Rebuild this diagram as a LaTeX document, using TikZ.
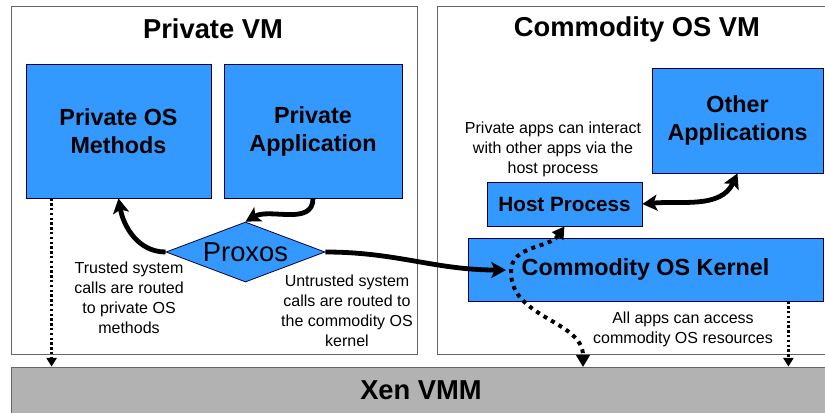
\documentclass[tikz,border=0pt]{standalone}
\usepackage{fontspec}
\setmainfont{Liberation Sans}
\usetikzlibrary{arrows.meta,shapes.geometric}
\definecolor{vmblue}{RGB}{51,153,255}
\definecolor{vmmgray}{RGB}{178,178,178}
\begin{document}
\begin{tikzpicture}[x=0.75pt,y=-0.75pt,
  panel/.style={draw=black!60,fill=white,line width=0.6pt},
  vmtitle/.style={font=\fontsize{20.5}{24}\selectfont\bfseries},
  bluebox/.style={draw=black!75!blue,fill=vmblue,line width=0.6pt,inner sep=0pt,
    align=center,font=\fontsize{17.5}{21}\selectfont\bfseries},
  proxosbox/.style={diamond,draw=black!75!blue,fill=vmblue,line width=0.6pt,inner sep=0pt,
    shape aspect=2.65,minimum width=119.25pt,minimum height=45pt,
    font=\fontsize{20.5}{24}\selectfont},
  xenbar/.style={draw=black!60,fill=vmmgray,line width=0.6pt,minimum width=615pt,
    minimum height=35.25pt,font=\fontsize{20.5}{24}\selectfont\bfseries},
  note/.style={align=center,font=\fontsize{12}{15}\selectfont},
  route/.style={line width=3.6pt,-{Stealth[length=11pt,width=12pt,inset=2.5pt]}},
  swap/.style={line width=3.6pt,{Stealth[length=11pt,width=12pt,inset=2.5pt]}-{Stealth[length=11pt,width=12pt,inset=2.5pt]}},
  share/.style={line width=3pt,dash pattern=on 3pt off 3.5pt,
    {Triangle[length=9pt,width=10pt]}-{Triangle[length=9pt,width=10pt]}},
  vmmlink/.style={line width=1.8pt,dash pattern=on 1.8pt off 1.8pt,
    -{Triangle[length=6.5pt,width=7.5pt]}}]
  \useasboundingbox (0,0) rectangle (825,412);

  \draw[panel] (11,6) rectangle (417,354);
  \draw[panel] (437,6) rectangle (840,354);
  \node[vmtitle] (privtitle) at (213,29) {Private VM};
  \node[vmtitle] (comtitle) at (637,29) {Commodity OS VM};
  \node[xenbar] (xen) at (421,390.5) {Xen VMM};

  \node[bluebox,minimum width=138.75pt,minimum height=100.5pt] (methods) at (118.5,131) {Private OS\\Methods};
  \node[bluebox,minimum width=133.5pt,minimum height=100.5pt] (appl) at (313,131) {Private\\Application};
  \node[proxosbox] (proxos) at (245.5,252) {Proxos};
  \node[bluebox,minimum width=128.25pt,minimum height=78.75pt] (others) at (737.5,120.5) {Other\\Applications};
  \node[bluebox,minimum width=116.25pt,minimum height=33pt,
    font=\fontsize{15.5}{19}\selectfont\bfseries] (host) at (564.5,204) {Host Process};
  \node[bluebox,minimum width=266.25pt,minimum height=47.25pt] (kernel) at (645.5,269.5) {Commodity OS Kernel};

  \node[note] (trusted) at (129,298) {Trusted system\\calls are routed\\to private OS\\methods};
  \node[note] (untrusted) at (347,311) {Untrusted system\\calls are routed to\\the commodity OS\\kernel};
  \node[note] (interact) at (553,149) {Private apps can interact\\with other apps via the\\host process};
  \node[note] (access) at (683,329.5) {All apps can access\\commodity OS resources};

  \coordinate (kentry) at (506,270);
  \coordinate (kbend) at (511,272);
  \coordinate (xentry) at (583,367);

  \draw[route] (appl.south) to[out=-90,in=30] (proxos.north);
  \draw[route] (proxos.west) to[out=180,in=-80] (methods.south);
  \draw[route] (proxos.east) to[out=0,in=180] (kentry);
  \draw[swap] (host.east) to[out=5,in=-115] (others.south);
  \draw[share] (host.south) to[out=-125,in=90] (kbend) to[out=-90,in=90] (xentry);
  \draw[vmmlink] ([xshift=19.5pt]methods.south west) -- ([xshift=19.5pt]methods.south west |- xen.north);
  \draw[vmmlink] ([xshift=-26.25pt]kernel.south east) -- ([xshift=-26.25pt]kernel.south east |- xen.north);
\end{tikzpicture}
\end{document}
